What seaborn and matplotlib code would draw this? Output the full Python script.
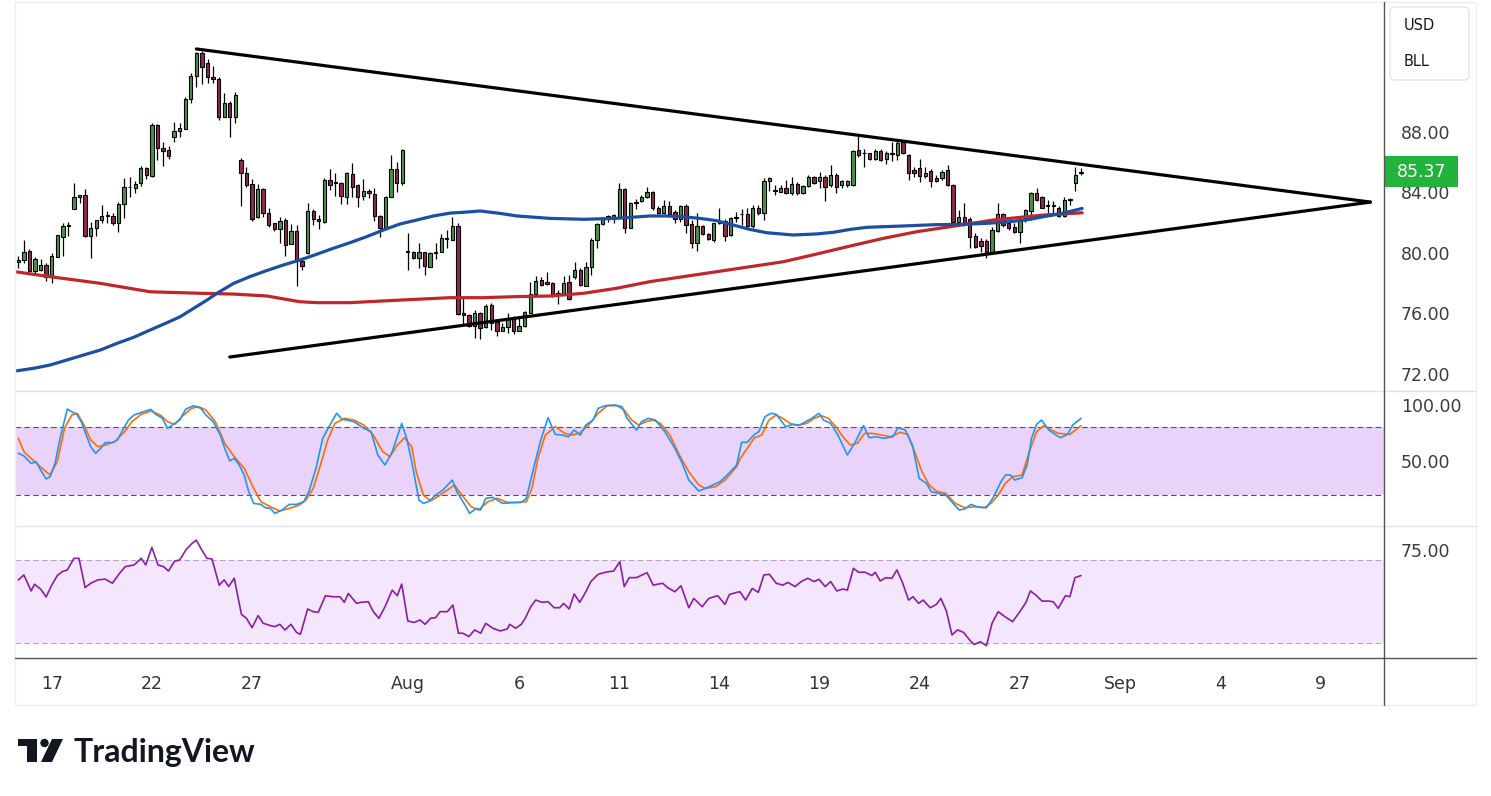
import numpy as np
import pandas as pd
import seaborn as sns
import matplotlib.pyplot as plt
import matplotlib.transforms as mtransforms
from matplotlib.patches import Rectangle, FancyBboxPatch, Polygon, Circle
from matplotlib.lines import Line2D

# ---- candles (one per bar) ----
opens = [79.40, 79.52, 80.12, 78.79, 78.86, 79.17, 78.46, 79.74, 81.07, 81.77,
         82.88, 83.67, 83.80, 81.11, 81.66, 82.17, 82.43, 82.43, 81.99, 83.25,
         84.33, 84.31, 84.64, 85.61, 85.08, 88.46, 86.94, 86.80, 87.69, 88.09,
         88.22, 90.16, 91.71, 93.20, 92.54, 91.62, 91.49, 88.97, 89.94, 89.02,
         86.14, 85.26, 84.55, 82.35, 84.20, 82.61, 81.95, 81.57, 82.17, 80.58,
         81.44, 79.45, 79.96, 82.77, 82.26, 82.06, 84.82, 84.60, 84.60, 83.71,
         85.22, 84.49, 83.76, 84.09, 83.87, 82.43, 81.66, 83.67, 85.53, 84.64,
         80.07, 80.07, 79.63, 80.03, 79.08, 80.02, 80.07, 80.93, 80.85, 81.79,
         76.00, 75.88, 75.15, 75.99, 75.10, 76.54, 75.43, 74.84, 75.10, 75.70,
         74.84, 75.15, 76.03, 77.27, 78.19, 78.04, 78.02, 77.36, 77.27, 78.04,
         78.37, 78.85, 77.82, 79.03, 80.84, 81.94, 82.39, 82.35, 82.35, 84.20,
         81.62, 83.30, 83.45, 83.71, 84.00, 83.00, 82.65, 83.10, 82.68, 82.21,
         83.10, 81.90, 80.62, 81.77, 81.24, 80.84, 81.95, 82.12, 81.18, 82.28,
         82.54, 82.54, 81.77, 82.94, 82.65, 84.75, 84.11, 84.05, 84.31, 83.98,
         84.55, 83.98, 84.42, 84.99, 84.77, 85.04, 84.49, 85.15, 84.49, 84.49,
         84.49, 86.80, 86.58, 86.58, 86.19, 86.74, 86.19, 86.52, 86.47, 87.36,
         86.47, 85.48, 85.59, 85.08, 85.43, 84.93, 84.93, 85.48, 84.49, 82.06,
         82.39, 82.21, 81.11, 80.80, 80.80, 80.07, 81.46, 82.54, 81.95, 81.68,
         81.40, 82.17, 82.79, 83.98, 83.67, 83.10, 83.10, 83.00, 82.43, 83.49,
         84.64, 85.26]
highs = [79.78, 80.84, 80.23, 79.72, 79.56, 79.34, 80.00, 81.20, 81.95, 82.06,
         84.60, 83.80, 84.20, 82.06, 82.17, 83.16, 82.79, 82.61, 83.38, 84.93,
         84.99, 84.77, 85.75, 85.70, 88.62, 88.53, 87.34, 87.07, 88.68, 88.62,
         90.29, 91.88, 93.32, 93.38, 92.81, 92.37, 91.62, 90.56, 90.07, 90.67,
         86.25, 85.66, 84.86, 84.55, 84.27, 82.94, 82.00, 82.35, 82.28, 81.88,
         81.84, 79.52, 83.27, 82.88, 82.50, 84.93, 85.53, 85.26, 84.71, 85.37,
         85.92, 84.55, 84.86, 84.20, 84.27, 82.50, 83.76, 86.47, 86.03, 86.87,
         81.29, 80.14, 80.62, 80.07, 80.07, 80.62, 81.22, 81.51, 82.35, 81.99,
         76.98, 75.92, 76.21, 76.10, 76.58, 76.69, 75.54, 75.32, 76.03, 75.81,
         75.76, 76.16, 78.08, 78.46, 78.41, 78.75, 78.08, 77.53, 78.46, 78.52,
         79.41, 78.97, 79.41, 80.95, 81.99, 82.39, 82.50, 82.54, 84.64, 84.27,
         83.38, 83.54, 83.82, 84.33, 84.09, 83.10, 83.49, 83.45, 82.83, 83.16,
         83.23, 82.17, 82.61, 81.81, 81.29, 81.99, 82.94, 82.21, 82.39, 82.72,
         82.87, 82.94, 83.16, 83.16, 84.93, 84.99, 84.49, 84.49, 84.82, 85.04,
         84.71, 84.49, 85.15, 85.08, 85.37, 85.15, 85.81, 85.26, 84.82, 84.82,
         86.80, 87.75, 86.85, 86.63, 86.85, 86.85, 86.76, 87.36, 87.42, 87.47,
         86.52, 85.70, 86.19, 85.70, 85.52, 85.15, 85.48, 85.81, 84.55, 82.83,
         83.27, 82.39, 81.29, 80.95, 80.89, 81.73, 83.27, 82.65, 82.06, 81.95,
         82.28, 82.87, 84.05, 84.27, 83.76, 83.49, 83.45, 83.10, 83.67, 83.60,
         85.70, 85.59]
lows = [78.97, 79.34, 78.70, 78.64, 78.81, 78.15, 77.97, 79.70, 79.78, 81.13,
        82.88, 83.32, 81.02, 79.63, 81.13, 81.95, 81.95, 81.84, 81.40, 82.32,
        83.71, 83.98, 84.44, 84.86, 85.04, 86.14, 85.75, 86.19, 87.36, 87.69,
        88.18, 89.90, 91.00, 91.18, 91.22, 91.22, 88.79, 88.97, 87.69, 88.62,
        83.10, 84.33, 82.13, 82.28, 82.35, 81.73, 81.46, 80.62, 79.79, 80.58,
        77.80, 78.86, 79.92, 81.84, 81.55, 81.99, 84.16, 83.76, 83.23, 83.23,
        83.71, 83.01, 83.49, 83.60, 82.13, 81.07, 81.62, 83.67, 84.05, 84.49,
        78.86, 79.60, 78.97, 78.53, 79.08, 79.56, 80.07, 80.29, 80.85, 75.88,
        75.22, 75.10, 74.33, 74.29, 74.99, 74.88, 74.49, 74.84, 74.66, 74.62,
        74.84, 75.10, 75.99, 77.20, 77.80, 77.86, 77.09, 76.60, 77.20, 76.87,
        78.24, 77.82, 77.82, 78.52, 80.29, 81.84, 82.06, 81.95, 82.28, 81.29,
        81.62, 82.87, 83.38, 83.60, 82.83, 82.60, 82.60, 82.50, 81.95, 82.06,
        81.29, 80.29, 80.14, 81.18, 80.84, 80.73, 81.90, 80.80, 81.11, 82.06,
        81.84, 81.73, 81.62, 82.50, 82.17, 84.11, 83.82, 84.05, 83.89, 83.82,
        83.82, 83.89, 84.38, 84.55, 84.27, 83.45, 84.38, 83.93, 84.27, 84.38,
        84.44, 86.36, 85.70, 86.14, 86.14, 86.10, 85.88, 86.10, 86.14, 86.54,
        84.82, 85.04, 84.71, 84.93, 84.38, 84.71, 84.82, 84.44, 81.99, 81.84,
        81.77, 80.29, 80.29, 80.07, 79.63, 80.00, 81.40, 81.73, 81.51, 81.29,
        80.62, 82.06, 82.17, 83.45, 82.94, 82.65, 82.50, 82.35, 82.39, 83.16,
        84.11, 85.15]
closes = [79.52, 80.05, 78.79, 79.56, 79.17, 78.42, 79.79, 81.15, 81.77, 81.80,
          83.67, 83.80, 81.11, 81.66, 82.17, 82.43, 82.43, 81.99, 83.23, 84.33,
          84.38, 84.53, 85.61, 85.13, 88.46, 86.92, 86.76, 86.41, 88.09, 88.27,
          90.16, 91.71, 93.20, 92.32, 91.62, 91.49, 88.97, 89.94, 89.02, 90.45,
          85.26, 84.49, 82.21, 84.20, 82.61, 81.84, 81.57, 82.13, 80.51, 81.44,
          79.45, 79.12, 82.77, 82.21, 82.08, 84.82, 84.49, 84.60, 83.78, 85.26,
          84.38, 83.71, 84.09, 83.94, 82.43, 81.66, 83.67, 85.53, 84.64, 86.81,
          80.10, 79.63, 80.07, 79.12, 79.96, 80.07, 80.96, 80.96, 81.79, 75.92,
          75.85, 75.15, 76.03, 74.99, 76.47, 75.32, 74.84, 75.06, 75.70, 74.84,
          75.15, 76.10, 77.27, 78.15, 77.86, 77.94, 77.20, 77.27, 78.02, 76.93,
          78.85, 77.86, 79.03, 80.84, 81.88, 82.28, 82.39, 82.50, 84.20, 81.62,
          83.27, 83.32, 83.71, 84.00, 82.94, 82.65, 83.10, 82.57, 82.21, 83.10,
          81.84, 80.62, 81.77, 81.24, 80.89, 81.95, 82.06, 81.11, 82.28, 82.39,
          82.54, 81.77, 82.94, 82.61, 84.75, 84.93, 84.11, 84.27, 83.98, 84.55,
          83.98, 84.42, 84.99, 84.64, 84.99, 84.38, 85.15, 84.38, 84.75, 84.77,
          86.74, 86.47, 86.58, 86.19, 86.74, 86.14, 86.58, 86.52, 87.29, 86.58,
          85.30, 85.30, 85.08, 85.30, 84.77, 84.77, 85.37, 84.49, 82.06, 82.39,
          81.99, 81.06, 80.40, 80.45, 80.07, 81.51, 82.57, 81.84, 81.62, 81.40,
          82.17, 82.83, 83.98, 83.49, 83.00, 83.12, 83.08, 82.43, 83.49, 83.51,
          85.15, 85.37]

# ---- moving averages (bar position, price) ----
ma_blue_x = [-0.6, 2.7, 5.7, 8.7, 11.7, 14.7, 17.7, 20.7, 23.7, 26.7, 29.1, 31.5, 33.9,
             35.7, 38.7, 41.6, 44.6, 47.6, 50.6, 53.6, 56.6, 59.6, 62.6, 65.6, 68.6,
             71.6, 74.6, 77.6, 80.6, 83.0, 86.6, 89.6, 95.6, 101.6, 107.5, 113.5, 116.5,
             119.5, 122.5, 125.5, 128.5, 131.5, 134.5, 139.3, 143.5, 146.5, 149.5, 152.5,
             158.5, 164.5, 169.2, 174.0, 178.2, 181.5, 184.2, 187.5, 191.2]
ma_blue = [72.17, 72.35, 72.57, 72.90, 73.23, 73.56, 74.00, 74.40, 74.89, 75.37, 75.77, 76.32, 76.87,
           77.32, 77.98, 78.42, 78.82, 79.19, 79.52, 79.90, 80.30, 80.67, 81.07, 81.51, 81.91,
           82.17, 82.44, 82.63, 82.70, 82.77, 82.61, 82.44, 82.28, 82.22, 82.28, 82.44, 82.44,
           82.39, 82.28, 82.13, 81.84, 81.55, 81.33, 81.18, 81.25, 81.36, 81.55, 81.69,
           81.77, 81.86, 81.88, 81.95, 82.06, 82.20, 82.39, 82.60, 82.94]
ma_red_x = [-0.6, 5.7, 14.7, 23.7, 32.7, 38.6, 44.7, 50.6, 53.7, 59.6, 68.6, 77.6, 83.6,
            89.6, 95.6, 101.6, 107.5, 113.5, 119.5, 125.5, 131.5, 137.5, 143.5, 149.5,
            155.5, 161.5, 167.5, 175.2, 184.2, 191.2]
ma_red = [78.75, 78.42, 77.98, 77.42, 77.32, 77.27, 77.14, 76.76, 76.70, 76.70, 76.87, 77.03, 77.03,
          77.10, 77.14, 77.32, 77.65, 78.09, 78.42, 78.75, 79.08, 79.41, 79.92, 80.45,
          80.96, 81.40, 81.73, 82.17, 82.50, 82.65]

# ---- triangle trend lines ----
upper_x = [32, 243]
upper_y = [93.5, 83.36]
lower_x = [38, 243]
lower_y = [73.1, 83.36]

# ---- stochastic RSI ----
stoch_k_x = [0.0, 1.0, 2.3, 3.2, 4.0, 5.0, 5.7, 6.6, 7.5, 8.8, 9.6, 10.5, 11.3, 12.2, 13.0, 13.9,
             14.8, 15.6, 16.9, 17.8, 18.6, 19.8, 20.8, 22.5, 23.8, 24.7, 25.9, 26.8, 27.7, 29.0,
             30.1, 31.5, 32.8, 33.7, 35.0, 36.3, 37.1, 38.0, 38.8, 39.7, 40.6, 41.4, 42.3, 43.6,
             44.4, 45.3, 46.1, 47.4, 48.7, 50.0, 51.3, 52.2, 53.5, 54.7, 56.0, 57.2, 58.2, 59.0,
             60.3, 62.1, 63.4, 64.6, 65.9, 67.2, 68.9, 69.8, 70.7, 72.0, 72.8, 73.7, 75.0, 76.3,
             78.0, 78.8, 80.1, 81.1, 82.3, 83.1, 84.0, 85.3, 87.0, 88.7, 90.4, 91.3, 92.6, 93.9,
             95.2, 96.5, 97.7, 98.9, 99.9, 101.0, 102.0, 103.3, 104.2, 105.5, 107.2, 108.5, 109.4,
             111.1, 112.0, 113.2, 114.5, 116.2, 118.0, 119.2, 120.5, 122.3, 123.5, 124.8, 126.1,
             127.4, 129.1, 130.0, 131.0, 132.3, 133.1, 134.2, 135.3, 136.2, 137.0, 137.9, 139.2,
             140.4, 141.7, 142.6, 143.9, 144.7, 146.0, 147.3, 149.0, 150.3, 151.9, 152.9, 154.2,
             155.5, 157.2, 158.1, 159.4, 160.7, 161.9, 163.2, 164.1, 165.4, 166.7, 168.0, 169.1,
             170.1, 171.2, 172.3, 174.0, 175.3, 176.6, 177.4, 178.3, 179.1, 180.4, 181.3, 182.1,
             183.0, 183.9, 185.2, 186.5, 187.3, 188.6, 189.5, 191.0]
stoch_k = [57.0, 54.5, 47.9, 49.4, 42.0, 34.0, 36.0, 47.9, 70.2, 96.4, 94.0, 91.7, 85.1, 73.2, 62.8, 56.9,
           61.3, 66.4, 66.4, 68.8, 76.2, 86.6, 91.1, 94.0, 96.1, 91.7, 88.1, 79.2, 82.2, 86.6,
           96.4, 99.4, 97.0, 91.1, 85.1, 73.2, 61.3, 50.0, 52.4, 46.4, 37.5, 22.6, 12.2, 11.3,
           8.3, 7.7, 3.3, 6.3, 11.3, 11.3, 13.7, 22.6, 43.5, 70.2, 82.1, 92.6, 87.2, 86.6,
           85.1, 79.2, 76.2, 55.4, 46.4, 58.3, 83.6, 70.2, 49.4, 15.2, 12.2, 13.7, 19.6, 24.1,
           33.0, 22.6, 12.2, 3.3, 7.7, 6.3, 16.7, 17.6, 12.2, 12.8, 13.1, 16.7, 43.5, 68.8,
           88.7, 73.8, 73.2, 71.7, 77.7, 73.2, 82.2, 86.6, 97.0, 99.4, 100.0, 98.5, 88.1,
           77.7, 85.1, 88.1, 86.6, 76.2, 61.3, 49.4, 33.0, 23.2, 25.6, 28.6, 31.5,
           37.5, 46.4, 66.7, 66.7, 73.8, 76.2, 89.6, 92.6, 91.7, 86.6, 80.7, 82.7,
           82.1, 85.7, 88.1, 92.6, 86.6, 83.6, 73.2, 55.4, 65.8, 81.6, 70.8, 71.7,
           70.2, 71.7, 79.8, 77.7, 64.3, 34.5, 30.1, 22.6, 21.1, 19.6, 12.2, 6.3,
           7.2, 11.3, 9.2, 8.3, 18.2, 31.5, 37.5, 37.5, 33.0, 35.1, 46.4, 70.2,
           82.7, 86.6, 77.7, 73.2, 70.8, 73.8, 82.1, 88.1]
stoch_d_x = [0.0, 1.0, 2.3, 3.6, 5.7, 7.0, 8.3, 9.6, 10.6, 11.8, 13.0, 14.3, 15.6, 17.3, 19.1, 20.4,
             22.1, 23.8, 25.5, 26.8, 28.1, 29.4, 31.1, 32.4, 33.7, 35.4, 37.1, 38.8, 40.6, 42.3,
             43.6, 45.3, 47.0, 48.7, 50.5, 51.7, 53.0, 54.3, 55.6, 56.9, 58.6, 60.3, 62.1, 63.8,
             65.5, 66.8, 68.1, 69.4, 70.7, 71.5, 72.8, 74.1, 75.8, 77.1, 78.4, 79.7, 81.4, 82.7,
             84.4, 86.1, 87.9, 89.6, 91.3, 92.3, 93.4, 94.7, 96.5, 98.2, 99.5, 100.8, 102.5,
             104.2, 105.9, 107.6, 108.9, 110.2, 111.5, 112.8, 114.1, 115.4, 117.1, 118.8, 120.5,
             122.3, 123.5, 125.3, 127.0, 129.1, 129.7, 131.0, 132.3, 133.6, 134.9, 136.2, 137.4,
             138.7, 140.0, 141.7, 143.0, 144.3, 145.6, 146.9, 148.2, 149.5, 150.8, 152.1, 153.4,
             155.1, 156.8, 158.5, 159.8, 161.1, 162.4, 163.7, 165.0, 166.7, 168.4, 170.1, 171.8,
             173.6, 174.8, 176.1, 177.4, 178.7, 180.4, 181.7, 183.0, 184.3, 185.6, 186.9, 189.0,
             191.0]
stoch_d = [70.2, 58.3, 52.4, 46.4, 37.5, 49.4, 79.2, 91.1, 92.6, 82.1, 68.8, 62.8, 64.3, 67.3, 76.2, 85.1,
           91.7, 94.6, 91.1, 85.1, 82.7, 89.6, 97.0, 98.5, 95.5, 85.1, 65.8, 53.9, 43.5, 25.6,
           13.7, 9.2, 5.4, 7.7, 10.7, 15.2, 25.6, 46.4, 68.8, 83.6, 88.1, 86.6, 82.1, 73.2,
           58.3, 53.9, 64.3, 70.8, 62.8, 40.5, 19.6, 14.3, 19.6, 24.1, 28.6, 19.6, 9.2, 6.3,
           13.7, 16.7, 13.1, 13.1, 13.7, 25.6, 52.4, 73.2, 80.7, 74.7, 73.2, 74.7, 82.1,
           92.6, 99.4, 99.4, 95.5, 86.6, 82.1, 85.1, 86.6, 83.6, 73.2, 55.4, 40.5,
           28.6, 25.6, 27.1, 33.0, 44.9, 51.8, 61.3, 70.8, 73.2, 86.6, 91.1, 88.1,
           83.6, 81.6, 83.6, 88.1, 90.5, 88.1, 80.7, 71.7, 64.3, 65.8, 74.7, 74.7,
           73.2, 71.7, 75.6, 73.8, 58.3, 40.5, 28.6, 23.2, 21.1, 12.2, 8.3, 9.2,
           8.3, 12.2, 19.6, 30.1, 36.0, 37.5, 58.3, 76.2, 81.6, 77.7, 74.7, 73.8,
           81.6]

# ---- RSI ----
rsi_x = [0.0, 1.0, 2.3, 2.9, 4.0, 5.0, 6.0, 7.0, 7.9, 8.8, 10.0, 10.9, 12.0, 13.0, 14.3, 15.6, 16.9,
         18.2, 19.2, 20.8, 22.1, 22.9, 24.0, 25.1, 26.1, 27.0, 28.1, 29.0, 30.1, 31.1, 32.0, 32.8,
         33.9, 34.8, 36.1, 37.0, 37.8, 38.8, 40.1, 41.0, 42.0, 43.1, 44.0, 45.3, 46.1, 47.0, 47.9,
         49.0, 50.0, 50.7, 52.0, 53.0, 53.9, 55.2, 56.5, 57.8, 58.6, 59.3, 60.8, 61.6, 62.9, 63.8,
         64.8, 65.9, 67.2, 68.1, 68.9, 70.0, 71.1, 72.2, 73.1, 74.1, 75.0, 75.8, 77.1, 78.1, 79.1,
         79.9, 81.0, 82.0, 83.1, 84.0, 85.3, 86.6, 87.9, 88.3, 89.4, 90.4, 91.1, 92.1, 93.0, 94.1,
         95.2, 96.3, 97.3, 98.0, 99.0, 99.9, 100.9, 102.0, 102.9, 104.2, 105.5, 107.0, 108.1,
         108.9, 109.8, 111.1, 113.0, 114.1, 115.8, 116.7, 118.0, 119.1, 120.5, 121.4, 122.9,
         124.1, 125.7, 127.0, 127.8, 129.1, 129.7, 130.7, 131.9, 133.0, 134.0, 135.0, 136.2,
         137.4, 138.3, 139.6, 140.7, 141.9, 143.0, 143.9, 145.0, 146.0, 147.1, 148.2, 149.0,
         150.1, 151.0, 152.2, 153.4, 154.0, 154.9, 155.9, 157.0, 157.9, 158.9, 160.0, 160.8,
         161.8, 162.6, 163.9, 165.0, 165.8, 166.8, 167.8, 168.8, 169.9, 171.1, 171.8, 172.9,
         174.0, 175.0, 176.1, 177.3, 178.7, 180.0, 181.1, 181.9, 183.0, 184.0, 185.2, 186.0,
         186.9, 188.2, 189.0, 189.9, 191.0]
rsi = [60.4, 62.8, 55.1, 58.3, 56.0, 52.2, 57.9, 62.5, 64.4, 65.2, 70.8, 70.8, 56.7, 58.8, 60.4, 60.8, 58.8,
       63.6, 66.8, 67.6, 70.8, 67.6, 76.1, 67.6, 66.8, 64.7, 69.5, 70.0, 74.8, 77.7, 79.6, 75.6,
       70.8, 70.5, 57.9, 60.4, 57.2, 61.2, 43.8, 41.9, 37.4, 43.2, 39.5, 38.4, 37.9, 39.0, 36.3,
       39.0, 35.1, 34.2, 46.4, 45.1, 44.8, 52.8, 52.3, 52.3, 49.6, 53.9, 49.1, 49.6, 49.9, 45.1,
       41.9, 47.5, 55.5, 52.8, 58.4, 40.6, 39.9, 41.1, 39.0, 41.9, 42.2, 45.1, 45.1, 48.3, 34.7,
       34.7, 33.1, 36.3, 34.7, 39.5, 37.1, 35.8, 36.8, 39.0, 37.1, 39.0, 41.9, 47.5, 50.7, 49.6,
       49.9, 47.0, 47.0, 49.1, 46.4, 53.6, 49.6, 54.7, 59.6, 63.1, 64.1, 64.7, 69.2,
       57.2, 61.5, 61.5, 63.9, 57.9, 58.8, 56.7, 54.7, 57.6, 47.0, 51.5, 47.5,
       51.5, 52.8, 48.6, 53.4, 54.4, 54.7, 50.7, 56.3, 54.4, 62.8, 63.1, 58.8,
       57.9, 59.2, 57.2, 59.6, 61.2, 59.6, 60.7, 57.2, 59.6, 55.1, 56.0, 55.5,
       66.0, 64.1, 64.1, 62.5, 64.1, 59.9, 61.5, 61.2, 65.2, 59.2, 50.7, 52.3,
       49.1, 50.7, 47.0, 48.6, 51.5, 45.4, 33.9, 36.3, 35.1, 31.0, 29.3, 30.6,
       28.7, 39.5, 45.1, 42.7, 40.3, 45.1, 49.6, 55.1, 52.8, 50.2, 50.2, 49.9,
       46.7, 52.8, 52.3, 61.5, 62.5]

# ---- axis labels ----
date_labels = ['17', '22', '27', 'Aug', '6', '11', '14', '19', '24', '27', 'Sep', '4', '9']
date_pos = [6, 24, 42, 70, 90, 108, 126, 144, 162, 180, 198, 216, 234]
price_ticks = [72, 76, 80, 84, 88]
stoch_ticks = [50, 100]
rsi_ticks = [75]

GREEN = '#4a9446'
RED = '#8f2852'
TAG = '#22b33a'

sns.set_theme(style='white')
plt.rcParams['font.family'] = ['DejaVu Sans']

W, H = 1491, 796
fig = plt.figure(figsize=(W / 100, H / 100), dpi=100)


def box(x0, y0, x1, y1):
    return [x0 / W, 1 - y1 / H, (x1 - x0) / W, (y1 - y0) / H]


ax_p = fig.add_axes(box(15, 5, 1384, 391))
ax_s = fig.add_axes(box(15, 391, 1384, 525))
ax_r = fig.add_axes(box(15, 525, 1384, 658))

XMIN, XMAX = -0.6, 245.45
for ax in (ax_p, ax_s, ax_r):
    ax.set_xlim(XMIN, XMAX)
    ax.set_facecolor('none')
    for s in ax.spines.values():
        s.set_visible(False)
    ax.yaxis.tick_right()
    ax.tick_params(axis='y', length=0, pad=12, labelsize=12.5, labelcolor='#3c3c3c')
    ax.grid(False)
    ax.set_xlabel('')
    ax.set_ylabel('')

# price panel
bars = pd.DataFrame({'open': opens, 'high': highs, 'low': lows, 'close': closes})
bars['idx'] = np.arange(len(bars))
up = bars['close'] >= bars['open']
colors = np.where(up, GREEN, RED)
body_lo = np.minimum(bars['open'], bars['close'])
body_h = np.maximum((bars['close'] - bars['open']).abs(), 0.06)
ax_p.vlines(bars['idx'], bars['low'], bars['high'], color='black', lw=0.9, zorder=3)
ax_p.bar(bars['idx'], body_h, bottom=body_lo, width=0.6, color=colors,
         edgecolor='black', linewidth=0.8, zorder=4)

sns.lineplot(x=ma_red_x, y=ma_red, ax=ax_p, color='#c0262b', lw=2.3,
             estimator=None, sort=False, zorder=5)
sns.lineplot(x=ma_blue_x, y=ma_blue, ax=ax_p, color='#1c4fa3', lw=2.3,
             estimator=None, sort=False, zorder=5)
sns.lineplot(x=upper_x, y=upper_y, ax=ax_p, color='black', lw=2.3,
             estimator=None, sort=False, zorder=6)
sns.lineplot(x=lower_x, y=lower_y, ax=ax_p, color='black', lw=2.3,
             estimator=None, sort=False, zorder=6)

ax_p.set_ylim(70.85, 96.41)
ax_p.set_yticks(price_ticks)
ax_p.set_yticklabels([f'{v:.2f}' for v in price_ticks])
ax_p.set_xticks([])

# last price tag
blend = mtransforms.blended_transform_factory(ax_p.transAxes, ax_p.transData)
last = closes[-1]
ax_p.add_patch(Rectangle((1.0, last - 1.03), 74 / 1369, 2.05, transform=blend,
                         facecolor=TAG, edgecolor='none', clip_on=False, zorder=9))
ax_p.text(1.0 + 13 / 1369, last, f'{last:.2f}', transform=blend, ha='left', va='center',
          color='white', fontsize=12.5, zorder=10, clip_on=False)

# stochastic panel
ax_s.axhspan(20, 80, color='#e9d3fb', zorder=0, lw=0)
for lvl in (20, 80):
    ax_s.axhline(lvl, color='#50535e', lw=0.8, ls=(0, (5, 3)), zorder=1)
sns.lineplot(x=stoch_d_x, y=stoch_d, ax=ax_s, color='#ff6d00', lw=1.2,
             estimator=None, sort=False, zorder=3)
sns.lineplot(x=stoch_k_x, y=stoch_k, ax=ax_s, color='#2196f3', lw=1.2,
             estimator=None, sort=False, zorder=4)
ax_s.set_ylim(-7.1, 112.5)
ax_s.set_yticks(stoch_ticks)
ax_s.set_yticklabels([f'{v:.2f}' for v in stoch_ticks])
ax_s.set_xticks([])

# RSI panel
ax_r.axhspan(30, 70, color='#f4e6fd', zorder=0, lw=0)
for lvl in (30, 70):
    ax_r.axhline(lvl, color='#b3a6bd', lw=0.8, ls=(0, (5, 3)), zorder=1)
sns.lineplot(x=rsi_x, y=rsi, ax=ax_r, color='#8a1fa6', lw=1.2,
             estimator=None, sort=False, zorder=3)
ax_r.set_ylim(22.77, 86.87)
ax_r.set_yticks(rsi_ticks)
ax_r.set_yticklabels([f'{v:.2f}' for v in rsi_ticks])
ax_r.set_xticks(date_pos)
ax_r.set_xticklabels(date_labels)
ax_r.tick_params(axis='x', length=0, pad=12, labelsize=12.5, labelcolor='#333333')

# frame, separators, header box and logo (pixel overlay)
ov = fig.add_axes([0, 0, 1, 1])
ov.set_xlim(0, W)
ov.set_ylim(H, 0)
ov.axis('off')
ov.set_facecolor('none')
ov.add_patch(Rectangle((15, 1.5), 1461, 703.5, fill=False, edgecolor='#eeeeee', lw=1))
ov.add_line(Line2D([15, 1476], [391, 391], color='#e0e3eb', lw=1))
ov.add_line(Line2D([15, 1476], [525.5, 525.5], color='#e0e3eb', lw=1))
ov.add_line(Line2D([15, 1476], [658, 658], color='#555555', lw=1))
ov.add_line(Line2D([1384, 1384], [2, 705], color='#555555', lw=1))
ov.add_patch(FancyBboxPatch((1390, 7), 79, 73, boxstyle='round,pad=0,rounding_size=5',
                            facecolor='white', edgecolor='#e0e3eb', lw=1))
ov.text(1404, 26, 'USD', ha='left', va='center', fontsize=10.5, color='#131722')
ov.text(1404, 62, 'BLL', ha='left', va='center', fontsize=10.5, color='#131722')

ink = '#131722'
ov.add_patch(Polygon([(18, 739), (37, 739), (37, 762), (27, 762), (27, 746), (18, 746)],
                     closed=True, facecolor=ink, edgecolor='none'))
ov.add_patch(Circle((44.5, 743), 4.2, facecolor=ink, edgecolor='none'))
ov.add_patch(Polygon([(52, 739), (63, 739), (52, 762), (41, 762)],
                     closed=True, facecolor=ink, edgecolor='none'))
ov.text(73, 762, 'TradingView', ha='left', va='baseline', fontsize=23,
        fontweight='bold', family=['Lato', 'DejaVu Sans'], color=ink)

fig.savefig('out.png', dpi=100, facecolor='white')
